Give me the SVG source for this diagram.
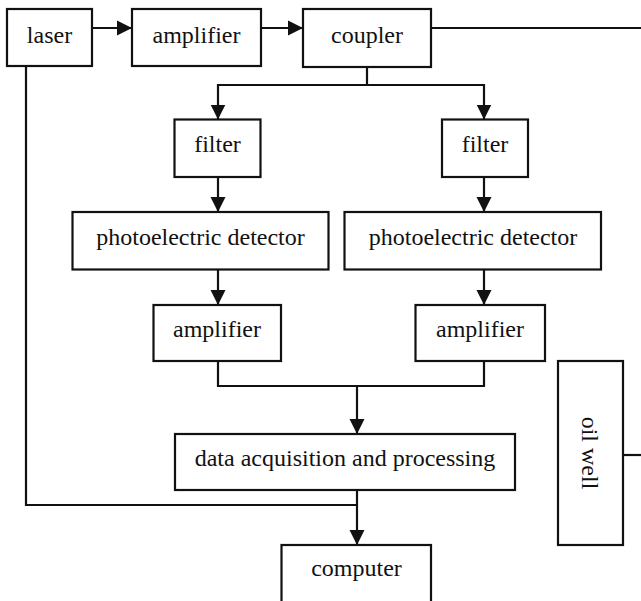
<svg xmlns="http://www.w3.org/2000/svg" width="641" height="601" viewBox="0 0 641 601">
  <style>
    .box { fill: #ffffff; stroke: #111111; stroke-width: 2.2; }
    .lbl { font-family: "Liberation Serif", "Times New Roman", serif; font-size: 24px; fill: #111111; text-anchor: middle; }
    .wire { fill: none; stroke: #111111; stroke-width: 2.2; }
    .arrow { marker-end: url(#head); }
  </style>
  <defs>
    <marker id="head" markerUnits="userSpaceOnUse" markerWidth="16" markerHeight="16" viewBox="0 0 16 16" refX="15" refY="8" orient="auto">
      <path d="M0,0.5 L15,8 L0,15.5 Z" fill="#111111"/>
    </marker>
  </defs>
  <rect width="641" height="601" fill="#ffffff"/>

  <!-- connectors -->
  <g id="connectors">
    <line class="wire arrow" x1="92" y1="28" x2="132" y2="28"/>
    <line class="wire arrow" x1="261" y1="28" x2="303" y2="28"/>
    <line class="wire" x1="431" y1="28" x2="641" y2="28"/>
    <polyline class="wire" points="367,67 367,85"/>
    <polyline class="wire" points="218,85 484,85"/>
    <line class="wire arrow" x1="218" y1="84" x2="218" y2="119.5"/>
    <line class="wire arrow" x1="484" y1="84" x2="484" y2="119.5"/>
    <line class="wire arrow" x1="218" y1="177" x2="218" y2="212"/>
    <line class="wire arrow" x1="484" y1="177" x2="484" y2="212"/>
    <line class="wire arrow" x1="218" y1="269.5" x2="218" y2="305"/>
    <line class="wire arrow" x1="484" y1="269.5" x2="484" y2="305"/>
    <polyline class="wire" points="218,361 218,386 484,386 484,361"/>
    <line class="wire arrow" x1="357" y1="385" x2="357" y2="434"/>
    <polyline class="wire" points="26,66 26,505 357,505"/>
    <line class="wire arrow" x1="357" y1="490" x2="357" y2="545"/>
    <line class="wire" x1="623" y1="455" x2="641" y2="455"/>
  </g>

  <!-- nodes -->
  <g id="laser">
    <rect class="box" x="7" y="9" width="85" height="57"/>
    <text class="lbl" x="49.5" y="43">laser</text>
  </g>
  <g id="amplifier-main">
    <rect class="box" x="132" y="9" width="129" height="57"/>
    <text class="lbl" x="196.5" y="43">amplifier</text>
  </g>
  <g id="coupler">
    <rect class="box" x="303" y="9" width="128" height="58"/>
    <text class="lbl" x="367" y="43">coupler</text>
  </g>
  <g id="filter-left">
    <rect class="box" x="174.5" y="119.5" width="86" height="57.5"/>
    <text class="lbl" x="217.5" y="152">filter</text>
  </g>
  <g id="filter-right">
    <rect class="box" x="442" y="119.5" width="86" height="57.5"/>
    <text class="lbl" x="485" y="152">filter</text>
  </g>
  <g id="detector-left">
    <rect class="box" x="72.5" y="212" width="256" height="57.5"/>
    <text class="lbl" x="200.5" y="245">photoelectric detector</text>
  </g>
  <g id="detector-right">
    <rect class="box" x="344.5" y="212" width="256.5" height="57.5"/>
    <text class="lbl" x="473" y="245">photoelectric detector</text>
  </g>
  <g id="amplifier-left">
    <rect class="box" x="153.5" y="305" width="127.5" height="56"/>
    <text class="lbl" x="217" y="337">amplifier</text>
  </g>
  <g id="amplifier-right">
    <rect class="box" x="415.5" y="305" width="129.5" height="56"/>
    <text class="lbl" x="480" y="337">amplifier</text>
  </g>
  <g id="data-acquisition">
    <rect class="box" x="175" y="434" width="340" height="56"/>
    <text class="lbl" x="345" y="466">data acquisition and processing</text>
  </g>
  <g id="computer">
    <rect class="box" x="281.5" y="545" width="149.5" height="80"/>
    <text class="lbl" x="356.5" y="576">computer</text>
  </g>
  <g id="oil-well">
    <rect class="box" x="558" y="361" width="65" height="184"/>
    <text class="lbl" transform="translate(582,453) rotate(90)" x="0" y="0">oil well</text>
  </g>
</svg>
